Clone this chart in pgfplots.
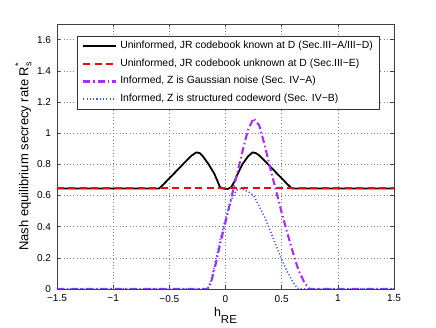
\documentclass[border=0pt]{standalone}
\usepackage{pgfplots}
\pgfplotsset{compat=1.18}
\usepackage{fontspec}
\setmainfont{Liberation Sans}
\definecolor{mypurple}{RGB}{170,45,245}
\definecolor{myblue}{RGB}{60,90,255}
\begin{document}
\begin{tikzpicture}
\path[use as bounding box] (-57pt,-39pt) rectangle (379pt,289pt);
\begin{axis}[
  scale only axis, width=337pt, height=265pt,
  at={(0,0)}, anchor=south west,
  xmin=-1.5, xmax=1.5, ymin=0, ymax=1.7,
  xtick={-1.5,-1,-0.5,0,0.5,1,1.5},
  xticklabels={−1.5,−1,−0.5,0,0.5,1,1.5},
  ytick={0,0.2,0.4,0.6,0.8,1,1.2,1.4,1.6},
  yticklabels={0,0.2,0.4,0.6,0.8,1,1.2,1.4,1.6},
  tick align=inside,
  major tick length=3.5pt,
  grid=major,
  grid style={dash pattern=on 0.7pt off 2.6pt, black!50, line width=0.5pt},
  axis line style={black!75, line width=0.6pt},
  tick style={black!75, line width=0.5pt},
  ticklabel style={font=\fontsize{10}{12}\selectfont},
  xticklabel style={yshift=-2.5pt},
  yticklabel style={xshift=-2.5pt},
  xlabel={\fontsize{12.5}{14}\selectfont h\raisebox{-7pt}{\fontsize{11.5}{13}\selectfont RE}},
  ylabel={\fontsize{13}{15}\selectfont Nash equilibrium secrecy rate R\rlap{\raisebox{7pt}{\fontsize{9}{10}\selectfont *}}\raisebox{-3pt}{\fontsize{9}{10}\selectfont s}},
  xlabel style={at={(axis description cs:0.5,-0.1045)}, anchor=base},
  ylabel style={at={(axis description cs:-0.085,0.5)}, anchor=base, rotate=0},
  legend style={at={(axis description cs:0,1)}, anchor=north west, xshift=20pt, yshift=-12pt,
    draw=black!80, font=\fontsize{10.4}{12}\selectfont,
    inner xsep=5pt, inner ysep=3.7pt, row sep=5.8pt, column sep=2pt,
    nodes={inner sep=1pt, text height=7.5pt, text depth=2.5pt}},
  legend cell align=left,
  legend image code/.code={\draw[#1] (0pt,0pt) -- (33pt,0pt);},
]
\addplot[black, line width=1.8pt] coordinates {
(-1.5,0.645) (-0.59,0.645) (-0.55,0.673) (-0.5,0.71) (-0.45,0.747) (-0.4,0.784) (-0.35,0.822) (-0.3,0.857) (-0.26,0.876) (-0.23,0.872) (-0.2,0.85) (-0.15,0.8) (-0.1,0.74) (-0.07,0.69) (-0.05,0.655) (-0.03,0.645) (0.02,0.642) (0.05,0.652) (0.08,0.69) (0.1,0.725) (0.15,0.8) (0.2,0.85) (0.24,0.876) (0.27,0.872) (0.3,0.857) (0.35,0.822) (0.4,0.784) (0.45,0.747) (0.5,0.71) (0.55,0.673) (0.59,0.645) (1.5,0.645)
};
\addlegendentry{Uninformed, JR codebook known at D (Sec.III−A/III−D)}
\addplot[red, line width=2pt, dash pattern=on 7pt off 4.5pt] coordinates {
(-1.5,0.645) (1.5,0.645)
};
\addlegendentry{Uninformed, JR codebook unknown at D (Sec.III−E)}
\addplot[mypurple, line width=2.1pt, dash pattern=on 7pt off 3pt on 1.5pt off 3pt] coordinates {
(-1.5,0) (-0.16,0) (-0.13,0.04) (-0.1,0.12) (-0.05,0.28) (0,0.43) (0.05,0.58) (0.1,0.73) (0.15,0.88) (0.2,1.02) (0.25,1.095) (0.3,1.05) (0.35,0.92) (0.4,0.77) (0.45,0.63) (0.5,0.49) (0.55,0.36) (0.6,0.235) (0.65,0.12) (0.7,0.045) (0.74,0.005) (0.76,0) (1.5,0)
};
\addlegendentry{Informed, Z is Gaussian noise (Sec. IV−A)}
\addplot[myblue, line width=1.6pt, dash pattern=on 1.1pt off 2.2pt] coordinates {
(-1.5,0) (-0.16,0) (-0.13,0.05) (-0.08,0.21) (-0.04,0.34) (0,0.45) (0.05,0.57) (0.1,0.635) (0.14,0.645) (0.2,0.625) (0.25,0.6) (0.3,0.53) (0.35,0.46) (0.4,0.37) (0.45,0.28) (0.5,0.19) (0.55,0.11) (0.6,0.045) (0.64,0.005) (0.66,0) (1.5,0)
};
\addlegendentry{Informed, Z is structured codeword (Sec. IV−B)}
\end{axis}
\end{tikzpicture}
\end{document}
